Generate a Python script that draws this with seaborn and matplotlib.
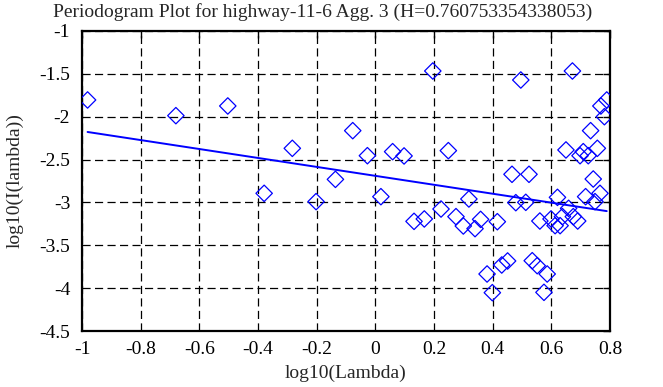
import matplotlib
matplotlib.use("Agg")
import matplotlib.pyplot as plt
import seaborn as sns
import numpy as np
import pandas as pd

# periodogram points (log10 lambda, log10 I(lambda))
log_lambda = [-0.981, -0.680, -0.503, -0.379, -0.283, -0.202, -0.136, -0.077, -0.027,
              0.019, 0.059, 0.098, 0.132, 0.167, 0.196, 0.224, 0.249, 0.275, 0.300,
              0.319, 0.340, 0.359, 0.381, 0.399, 0.416, 0.431, 0.451, 0.466, 0.479,
              0.496, 0.513, 0.524, 0.535, 0.552, 0.561, 0.575, 0.586, 0.599, 0.613,
              0.621, 0.630, 0.638, 0.650, 0.659, 0.672, 0.675, 0.690, 0.698, 0.709,
              0.717, 0.726, 0.734, 0.743, 0.749, 0.757, 0.766, 0.769, 0.781, 0.789]
log_I = [-1.805, -1.988, -1.875, -2.894, -2.369, -2.991, -2.731, -2.163, -2.455,
         -2.933, -2.408, -2.458, -3.221, -3.193, -1.467, -3.077, -2.396, -3.166, -3.275,
         -2.960, -3.306, -3.198, -3.835, -4.053, -3.225, -3.730, -3.683, -2.672, -3.003,
         -1.572, -2.999, -2.672, -3.680, -3.738, -3.217, -4.049, -3.835, -3.193, -3.271,
         -2.941, -3.271, -3.166, -2.388, -3.069, -1.467, -3.166, -3.217, -2.455, -2.408,
         -2.933, -2.455, -2.163, -2.727, -2.991, -2.369, -2.894, -1.875, -2.000, -1.805]

# least squares fit shown in the reference, H = (1 - slope) / 2
H = 0.760753354338053
fit_slope = 1 - 2 * H
fit_intercept = -2.69

x_ticks = [-1, -0.8, -0.6, -0.4, -0.2, 0, 0.2, 0.4, 0.6, 0.8]
y_ticks = [-4.5, -4, -3.5, -3, -2.5, -2, -1.5, -1]

sns.set_style("white")
plt.rcParams['font.family'] = ['Liberation Serif', 'DejaVu Serif']
plt.rcParams['font.size'] = 14

df = pd.DataFrame({"x": log_lambda, "y": log_I})

fig = plt.figure(figsize=(6.63, 3.87), dpi=100)
ax = fig.add_axes([0.1237, 0.1447, 0.7963, 0.7753])

sns.scatterplot(data=df, x="x", y="y", marker="D", s=70, facecolor="none",
                edgecolor="blue", linewidth=0.9, ax=ax, zorder=3)

xs = np.array([min(log_lambda), max(log_lambda)])
ax.plot(xs, fit_intercept + fit_slope * xs, color="blue", linewidth=1.4, zorder=4)

ax.set_xlim(-1, 0.8)
ax.set_ylim(-4.5, -1)
ax.set_xticks(x_ticks)
ax.set_yticks(y_ticks)
ax.set_xticklabels([f"{t:g}" for t in x_ticks])
ax.set_yticklabels([f"{t:g}" for t in y_ticks])
ax.grid(True, color="black", linestyle=(0, (6.5, 3.5)), linewidth=0.9)
ax.tick_params(direction="in", top=True, right=True, length=5, width=1, labelsize=14,
               colors="black")
ax.tick_params(axis="x", pad=7)
ax.tick_params(axis="y", pad=8.5)
for sp in ax.spines.values():
    sp.set_color("black")
    sp.set_linewidth(1.6)

fig.text(0.486, 0.993, "Periodogram Plot for highway-11-6 Agg. 3 (H=0.760753354338053)",
         fontsize=14, ha="center", va="top")
ax.set_xlabel("log10(Lambda)", fontsize=14, labelpad=5)
ax.set_ylabel("log10(I(lambda))", fontsize=14, labelpad=11)

fig.savefig("out.png", dpi=100)
